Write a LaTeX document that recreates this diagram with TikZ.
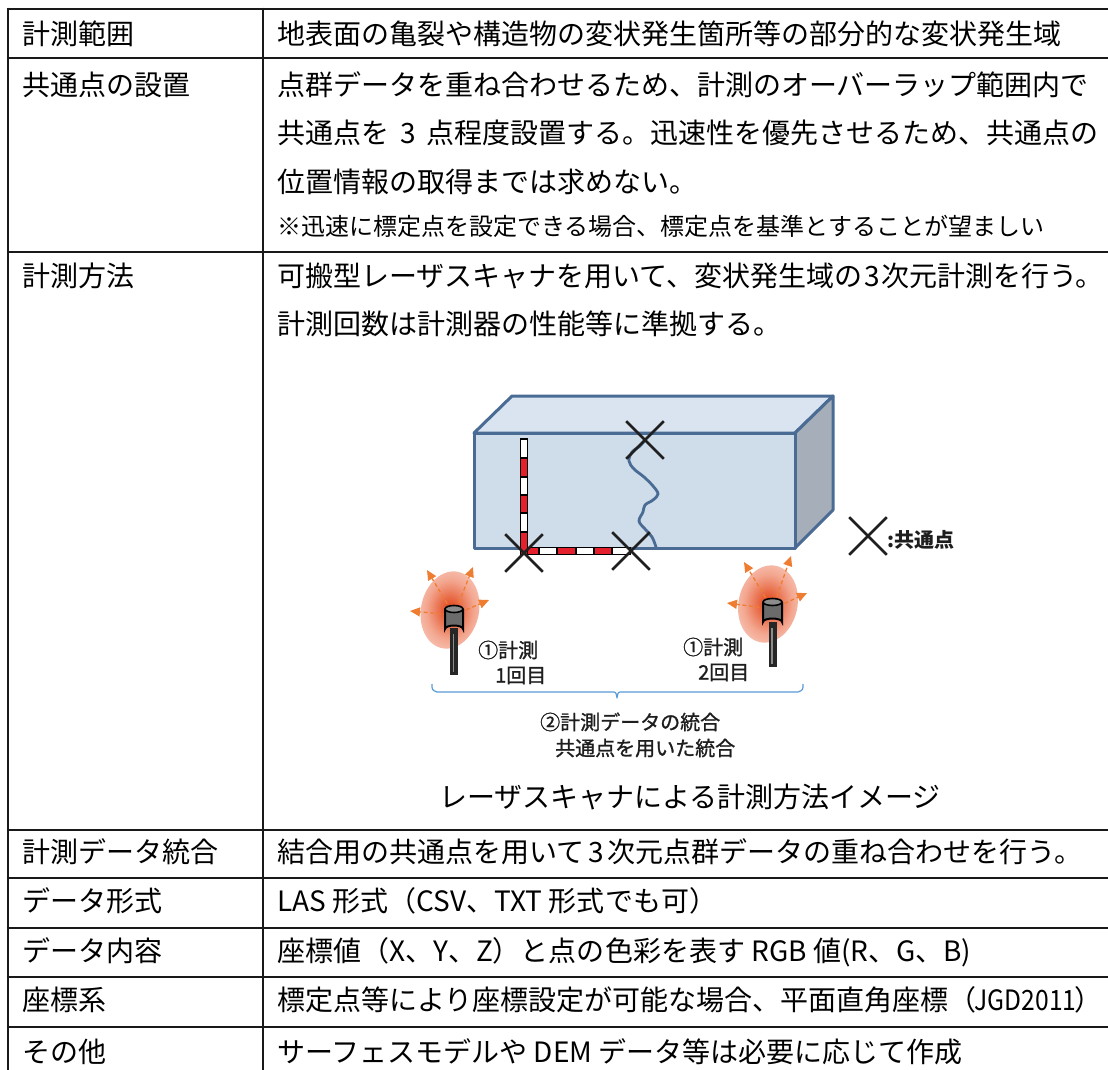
\documentclass[tikz,border=0pt]{standalone}
\usepackage{fontspec}
\usepackage{graphicx}
\setmainfont{Noto Sans CJK JP}
\newfontfamily\jpmed{Noto Sans CJK JP}[FakeBold=1.2]
\usetikzlibrary{arrows.meta,shapes.misc}
\definecolor{boxblue}{HTML}{4A6C94}
\definecolor{frontfill}{HTML}{CFDDEB}
\definecolor{topfill}{HTML}{D9E4F0}
\definecolor{sidefill}{HTML}{A6AFB9}
\definecolor{staffred}{HTML}{E3202B}
\definecolor{beamorange}{HTML}{EE7D31}
\definecolor{glowA}{HTML}{E4552C}
\definecolor{glowB}{HTML}{F3A68F}
\definecolor{glowC}{HTML}{F9D6CB}
\definecolor{glowD}{HTML}{FDEEE9}
\definecolor{bracecol}{HTML}{5B9BD5}
\definecolor{lblcol}{HTML}{1E1E1E}
\pgfdeclareradialshading{glowshade}{\pgfpoint{0bp}{0bp}}{color(0bp)=(glowA); color(4bp)=(glowA); color(18bp)=(glowB); color(32bp)=(glowC); color(44bp)=(glowD); color(50bp)=(white)}
\tikzset{
  cell/.style={anchor=west, inner sep=0pt, text height=24.6pt, text depth=3.4pt, font=\fontsize{28}{34}\selectfont},
  notecell/.style={anchor=west, inner sep=0pt, text height=21.1pt, text depth=2.9pt, font=\fontsize{24}{28}\selectfont},
  captioncell/.style={cell, anchor=center},
  lbl/.style={anchor=west, inner sep=0pt, text height=17.6pt, text depth=2.4pt, font=\jpmed\fontsize{20}{24}\selectfont, text=lblcol},
  gridline/.style={line width=2.6pt, draw=black!90},
  boxline/.style={draw=boxblue, line width=3pt, line join=round},
  xmark/.style={draw=black!88, cross out, minimum size=35pt, inner sep=0pt, line width=2.6pt},
  beam/.style={draw=beamorange, line width=1.3pt, dash pattern=on 4pt off 2.6pt, -{Triangle[length=10pt,width=9pt]}},
  crack/.style={draw=boxblue, line width=2.8pt, line cap=round, line join=round},
  headbody/.style={draw=black, line width=2pt, fill=black!58},
  headtop/.style={draw=black, line width=1.6pt, fill=black!45},
  pole/.style={fill=black!85},
  braceline/.style={draw=bracecol, line width=1.2pt, line join=round},
}
\begin{document}
\begin{tikzpicture}[x=1pt,y=-1pt]
\useasboundingbox (0,0) rectangle (1108,1070);
\fill[white] (0,0) rectangle (1108,1070);

% ---------- table grid ----------
\foreach \yy in {9,58,252,830,878,928,977,1027}
  \draw[gridline] (6.7,\yy) -- (1108,\yy);
\draw[gridline] (8,7.7) -- (8,1070);
\draw[gridline] (263,7.7) -- (263,1070);

% ---------- left column ----------
\node[cell] (h1) at (22,34) {計測範囲};
\node[cell] (h2) at (22,85) {共通点の設置};
\node[cell] (h3) at (22,276) {計測方法};
\node[cell] (h4) at (22,852) {計測データ統合};
\node[cell] (h5) at (22,901) {データ形式};
\node[cell] (h6) at (22,951) {データ内容};
\node[cell] (h7) at (22,1000) {座標系};
\node[cell] (h8) at (22,1052) {その他};

% ---------- right column ----------
\node[cell] (r1) at (277,34) {地表面の亀裂や構造物の変状発生箇所等の部分的な変状発生域};
\node[cell] (r2a) at (277,85) {点群データを重ね合わせるため、計測のオーバーラップ範囲内で};
\node[cell] (r2b) at (277,133) {共通点を\hspace{11pt}3\hspace{11pt}点程度設置する。迅速性を優先させるため、共通点の};
\node[cell] (r2c) at (277,182) {位置情報の取得までは求めない。};
\node[notecell] (r2d) at (277,226) {※迅速に標定点を設定できる場合、標定点を基準とすることが望ましい};
\node[cell] (r3a) at (277,276) {可搬型レーザスキャナを用いて、変状発生域の\hspace{2pt}3\hspace{2pt}次元計測を行う。};
\node[cell] (r3b) at (277,324) {計測回数は計測器の性能等に準拠する。};
\node[captioncell] (cap) at (690,797) {レーザスキャナによる計測方法イメージ};
\node[cell] (r4) at (277,852) {結合用の共通点を用いて\hspace{4pt}3\hspace{4pt}次元点群データの重ね合わせを行う。};
\node[cell] (r5) at (277,901) {LAS 形式（CSV、TXT 形式でも可）};
\node[cell] (r6) at (277,951) {座標値（X、Y、Z）と点の色彩を表す RGB 値(R、G、B)};
\node[cell] (r7) at (277,1000) {標定点等により座標設定が可能な場合、平面直角座標（\makebox[98pt][c]{\scalebox{0.88}[1]{JGD2011}}）};
\node[cell] (r8) at (277,1052) {サーフェスモデルや DEM データ等は必要に応じて作成};

% ---------- box ----------
\filldraw[boxline, fill=topfill] (474,433) -- (512,396) -- (833,396) -- (795,433) -- cycle;
\filldraw[boxline, fill=sidefill] (795,433) -- (833,396) -- (833,510) -- (795,548) -- cycle;
\filldraw[boxline, fill=frontfill] (474,433) rectangle (795,548);

% crack
\draw[crack] plot[smooth, tension=0.6] coordinates {(645,440) (640,446) (632,452) (629,461) (634,469) (644,477) (653,486) (658,494) (653,500) (645,505) (643,512) (639,521) (645,529) (652,537) (656,547)};

% ---------- staff ----------
\foreach \a/\b/\c in {439/458/white, 458/477/staffred, 477/495/white, 495/513/staffred, 513/532/white, 532/554.5/staffred}
  \filldraw[fill=\c, draw=black, line width=1.1pt] (520.5,\a) rectangle (527.5,\b);
\foreach \a/\b/\c in {527.5/539/staffred, 539/557/white, 557/576/staffred, 576/594/white, 594/612/staffred, 612/630/white}
  \filldraw[fill=\c, draw=black, line width=1.1pt] (\a,547.5) rectangle (\b,554.5);
\draw[black, line width=1.8pt, line join=miter] (520.5,439) -- (520.5,554.5) -- (630,554.5) -- (630,547.5) -- (527.5,547.5) -- (527.5,439) -- cycle;

% ---------- common points ----------
\node[xmark] (xc) at (645,440) {};
\node[xmark] (xa) at (524,553) {};
\node[xmark] (xb) at (631,551) {};
\node[xmark] (xl) at (868,536) {};
\node[anchor=west, inner sep=0pt, text height=17.6pt, text depth=2.4pt, font=\fontsize{20}{24}\selectfont\bfseries, text=lblcol] (legend) at (887,540) {:共通点};

% ---------- scanner 1 ----------
\begin{scope}[shift={(450,610)}, rotate=-12]
  \shade[shading=glowshade] (0,0) ellipse (29 and 39);
\end{scope}
\coordinate (s1) at (454,615);
\coordinate (s1a) at (427,570);
\coordinate (s1b) at (473,567);
\coordinate (s1c) at (410,611);
\coordinate (s1d) at (489,600);
\foreach \t in {s1a,s1b,s1c,s1d} \draw[beam] (s1) -- (\t);
\fill[pole] (450,628) rectangle (458,675);
\fill[black!45] (452.8,634) rectangle (454.2,672);
\draw[headbody] (445,609) -- (445,629) arc[start angle=180, end angle=360, x radius=9, y radius=3.5] -- (463,609);
\draw[headtop] (454,609) ellipse (9 and 3.5);

% ---------- scanner 2 ----------
\begin{scope}[shift={(768,604)}, rotate=-12]
  \shade[shading=glowshade] (0,0) ellipse (29.5 and 39);
\end{scope}
\coordinate (s2) at (772.5,609);
\coordinate (s2a) at (744,562);
\coordinate (s2b) at (791,556);
\coordinate (s2c) at (727,603);
\coordinate (s2d) at (807,593);
\foreach \t in {s2a,s2b,s2c,s2d} \draw[beam] (s2) -- (\t);
\fill[pole] (768.5,622) rectangle (776.5,667);
\fill[black!45] (771.3,628) rectangle (772.7,664);
\draw[headbody] (763,602) -- (763,622) arc[start angle=180, end angle=360, x radius=9.5, y radius=3.5] -- (782,602);
\draw[headtop] (772.5,602) ellipse (9.5 and 3.5);

% ---------- labels ----------
\node[lbl] (m1a) at (478,650) {①計測};
\node[lbl] (m1b) at (495,675) {1回目};
\node[lbl] (m2a) at (683,647) {①計測};
\node[lbl] (m2b) at (698,672) {2回目};

% brace
\coordinate (bl) at (432,684);
\coordinate (br) at (803,684);
\coordinate (bm) at (617,698);
\draw[braceline] (bl) .. controls (432,690) .. (437,692) -- (612,692) .. controls (616,692) .. (bm) .. controls (618,692) .. (622,692) -- (798,692) .. controls (803,690) .. (br);

\node[lbl] (t1) at (540,722) {②計測データの統合};
\node[lbl] (t2) at (555,748) {共通点を用いた統合};
\end{tikzpicture}
\end{document}
